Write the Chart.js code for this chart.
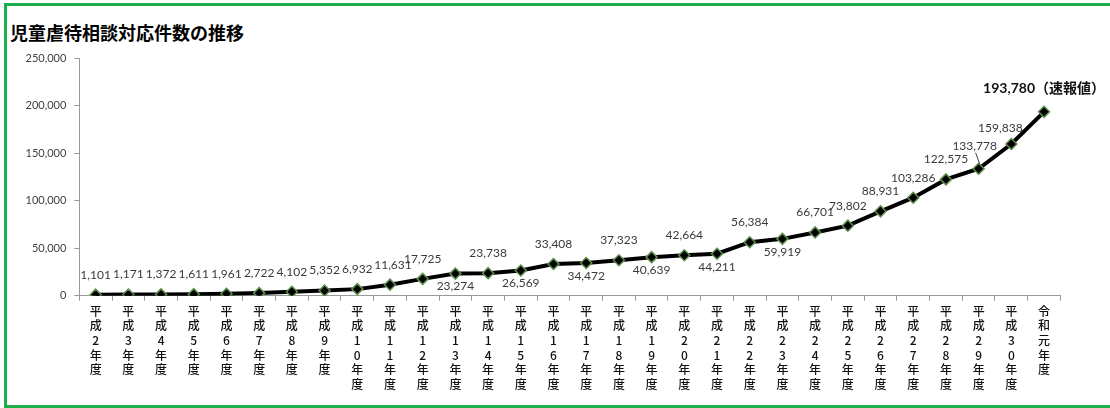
<!DOCTYPE html>
<html lang="ja">
<head>
<meta charset="utf-8">
<script src="https://cdn.jsdelivr.net/npm/chart.js@4.4.1/dist/chart.umd.min.js"></script>
<style>
  html, body { margin: 0; padding: 0; background: #fff; }
  body { width: 1110px; height: 408px; position: relative; overflow: hidden; }
  #frame {
    position: absolute; left: 4px; top: 3px; width: 1120px; height: 405px;
    box-sizing: border-box; border: 3px solid #1aae4c;
  }
  #title {
    position: absolute; left: 10px; top: 19px; line-height: 22px;
    font: bold 18px "Noto Sans CJK JP", sans-serif; color: #000;
  }
  #wrap { position: absolute; left: 0; top: 0; width: 1110px; height: 408px; }
</style>
</head>
<body>
<div id="frame"></div>
<div id="title">児童虐待相談対応件数の推移</div>
<div id="wrap"><canvas id="abuse" width="1110" height="408"></canvas></div>
<script>
// 年度（縦書きで表示する）
var categories = [
  '平成2年度', '平成3年度', '平成4年度', '平成5年度', '平成6年度',
  '平成7年度', '平成8年度', '平成9年度', '平成10年度', '平成11年度',
  '平成12年度', '平成13年度', '平成14年度', '平成15年度', '平成16年度',
  '平成17年度', '平成18年度', '平成19年度', '平成20年度', '平成21年度',
  '平成22年度', '平成23年度', '平成24年度', '平成25年度', '平成26年度',
  '平成27年度', '平成28年度', '平成29年度', '平成30年度', '令和元年度'
];

// 相談対応件数
var counts = [
  1101, 1171, 1372, 1611, 1961,
  2722, 4102, 5352, 6932, 11631,
  17725, 23274, 23738, 26569, 33408,
  34472, 37323, 40639, 42664, 44211,
  56384, 59919, 66701, 73802, 88931,
  103286, 122575, 133778, 159838, 193780
];

// 縦軸の目盛
var yTicks = [0, 50000, 100000, 150000, 200000, 250000];

// 最新年度の注記
var lastNote = '（速報値）';

function fmt(v) {
  return v.toLocaleString('en-US');
}

// 値ラベルを描くプラグイン
var valueLabels = {
  id: 'valueLabels',
  afterDatasetsDraw: function(chart) {
    var ctx = chart.ctx;
    var meta = chart.getDatasetMeta(0);
    var below = [11, 13, 15, 17, 19, 21];
    ctx.save();
    ctx.textAlign = 'center';
    ctx.textBaseline = 'middle';
    meta.data.forEach(function(pt, i) {
      var dx = 0, dy = -20;
      if (below.indexOf(i) >= 0) dy = 13;
      if (i === 9) dx = 3;
      if (i === 27) { dx = -4; dy = -23; }
      if (i === 28) { dx = -11; dy = -16; }
      var text = fmt(counts[i]);
      if (i === counts.length - 1) {
        dy = -23;
        ctx.font = 'bold 14px Lato, "Noto Sans CJK JP", sans-serif';
        ctx.fillStyle = '#111';
        ctx.fillText(text + lastNote, pt.x, pt.y + dy);
        return;
      }
      ctx.font = '12px Lato, sans-serif';
      ctx.fillStyle = '#3a3a3a';
      ctx.fillText(text, pt.x + dx, pt.y + dy);
      if (i === 27) {
        // 引き出し線
        ctx.strokeStyle = '#404040';
        ctx.lineWidth = 1;
        ctx.beginPath();
        ctx.moveTo(pt.x - 3, pt.y - 16);
        ctx.lineTo(pt.x + 1, pt.y - 5);
        ctx.stroke();
      }
    });
    ctx.restore();
  }
};

var abuseChart = new Chart(document.getElementById('abuse'), {
  type: 'line',
  data: {
    labels: categories,
    datasets: [{
      data: counts,
      borderColor: '#000',
      borderWidth: 4,
      tension: 0,
      pointStyle: 'rectRot',
      pointRadius: 5.5,
      pointBackgroundColor: '#000',
      pointBorderColor: '#5d8f4c',
      pointBorderWidth: 1.5
    }]
  },
  options: {
    responsive: false,
    animation: false,
    devicePixelRatio: 1,
    layout: { padding: { left: 0, top: 58.5, right: 49.6, bottom: 0 } },
    plugins: {
      legend: { display: false },
      tooltip: { enabled: false }
    },
    scales: {
      x: {
        offset: true,
        grid: { offset: true, drawOnChartArea: false, tickLength: 5, color: '#999' },
        border: { color: '#999', width: 1 },
        ticks: {
          autoSkip: false,
          maxRotation: 0,
          minRotation: 0,
          padding: 3,
          color: '#111',
          font: { family: '"Noto Sans CJK JP", sans-serif', size: 12, weight: '500', lineHeight: 1.22 },
          callback: function(v, i) { return Array.from(categories[i]); }
        },
        afterFit: function(s) { s.height = 112.3; }
      },
      y: {
        min: yTicks[0],
        max: yTicks[yTicks.length - 1],
        afterBuildTicks: function(s) {
          s.ticks = yTicks.map(function(v) { return { value: v }; });
        },
        grid: { drawOnChartArea: false, tickLength: 5, color: '#999' },
        border: { color: '#999', width: 1 },
        ticks: {
          padding: 8,
          color: '#404040',
          font: { family: 'Lato, sans-serif', size: 11 },
          callback: function(v) { return fmt(v); }
        },
        afterFit: function(s) { s.width = 79.3; }
      }
    }
  },
  plugins: [valueLabels]
});
</script>
</body>
</html>
